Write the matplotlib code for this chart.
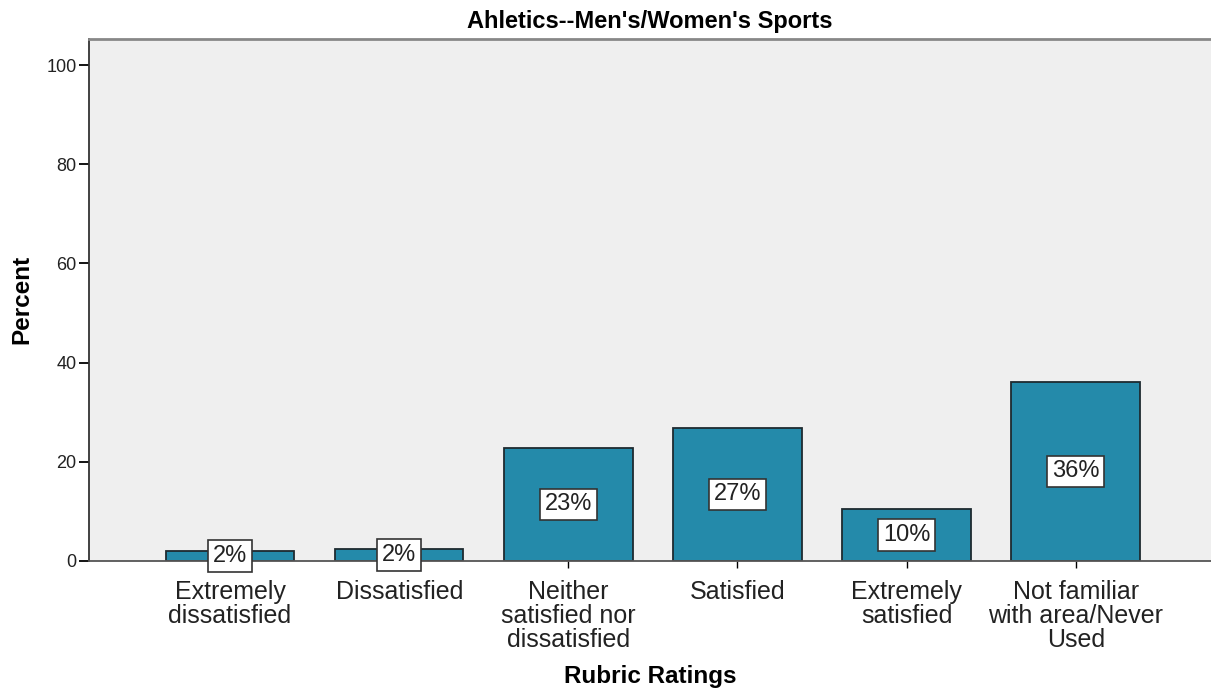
import matplotlib.pyplot as plt

plt.rcParams['font.family'] = ['Liberation Sans', 'DejaVu Sans']

categories = ['Extremely\ndissatisfied', 'Dissatisfied', 'Neither\nsatisfied nor\ndissatisfied',
              'Satisfied', 'Extremely\nsatisfied', 'Not familiar\nwith area/Never\nUsed']
percents = [2.0, 2.3, 22.8, 26.8, 10.5, 36.1]
labels = ['2%', '2%', '23%', '27%', '10%', '36%']

fig = plt.figure(figsize=(12.11, 6.89), dpi=100)
ax = fig.add_axes([0.0735, 0.186, 0.9265, 0.7575])
ax.set_facecolor('#efefef')

x = list(range(len(categories)))
ax.bar(x, percents, width=0.76, color='#248aaa', edgecolor='#1e2a30', linewidth=1.3, zorder=2)

for xi, v, lab in zip(x, percents, labels):
    ax.text(xi, v / 2, lab, ha='center', va='center', fontsize=17, color='#222222', zorder=3,
            bbox=dict(boxstyle='square,pad=0.2', facecolor='white', edgecolor='#333333', linewidth=1.2))

ax.set_xlim(-0.834, 5.80)
ax.set_ylim(0, 105.3)
ax.set_yticks([0, 20, 40, 60, 80, 100])
ax.set_xticks(x)
ax.set_xticklabels(categories, fontsize=18, linespacing=1.0, color='#222222')
ax.tick_params(axis='y', labelsize=13, length=7, width=1.3, direction='out', pad=2, labelcolor='#222222')
ax.tick_params(axis='x', length=5, width=1.0, direction='out', pad=9)

ax.spines['right'].set_visible(False)
ax.spines['top'].set_color('#888888')
ax.spines['top'].set_linewidth(2)
ax.spines['left'].set_color('#333333')
ax.spines['left'].set_linewidth(1.3)
ax.spines['bottom'].set_color('#555555')
ax.spines['bottom'].set_linewidth(1.3)

ax.set_title("Ahletics--Men's/Women's Sports", fontsize=17, fontweight='bold', pad=8)
ax.set_xlabel('Rubric Ratings', fontsize=17.5, fontweight='bold', labelpad=9)
ax.set_ylabel('Percent', fontsize=17.5, fontweight='bold', labelpad=9)

plt.savefig('out.png', dpi=100)
